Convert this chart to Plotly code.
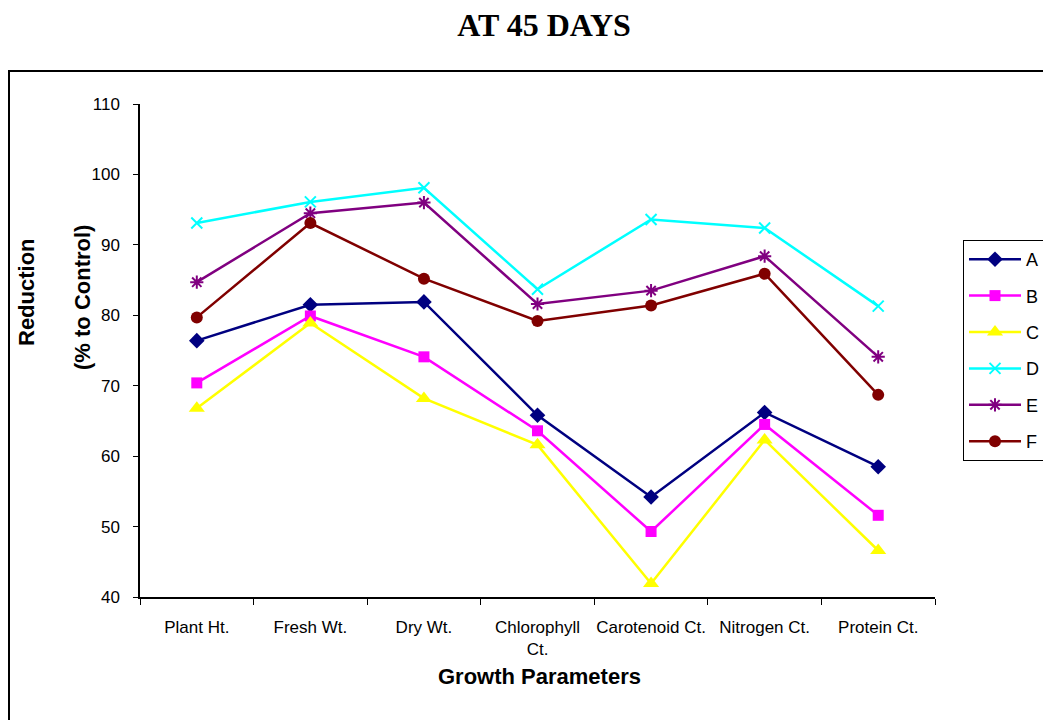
import plotly.graph_objects as go

categories = ["Plant Ht.", "Fresh Wt.", "Dry Wt.", "Chlorophyll<br>Ct.", "Carotenoid Ct.", "Nitrogen Ct.", "Protein Ct."]
series_names = ["A", "B", "C", "D", "E", "F"]
A = [76.4, 81.5, 81.9, 65.8, 54.2, 66.2, 58.5]
B = [70.4, 79.9, 74.1, 63.6, 49.3, 64.5, 51.6]
C = [66.8, 78.9, 68.2, 61.6, 41.9, 62.3, 46.6]
D = [93.1, 96.1, 98.1, 83.7, 93.6, 92.4, 81.3]
E = [84.7, 94.5, 96.0, 81.6, 83.5, 88.4, 74.1]
F = [79.7, 93.1, 85.2, 79.2, 81.4, 85.9, 68.7]
values = [A, B, C, D, E, F]

colors = ["#000080", "#FF00FF", "#FFFF00", "#00FFFF", "#800080", "#800000"]
symbols = ["diamond", "square", "triangle-up", "x-thin", "asterisk", "circle"]
sizes = [12, 11, 14, 11, 11, 12]

fig = go.Figure()
for i, name in enumerate(series_names):
    open_sym = symbols[i] in ("x-thin", "asterisk")
    fig.add_trace(go.Scatter(
        x=categories, y=values[i], name=name, mode="lines+markers",
        legendgroup=name,
        line=dict(color=colors[i], width=2.5),
        marker=dict(symbol=symbols[i], size=sizes[i], color=colors[i],
                    line=dict(color=colors[i], width=2 if open_sym else 0)),
    ))

OFF = 8  # page body margin
W, H = 1051 - OFF, 720 - OFF
L, R, T, B_ = 140 - OFF, 935 - OFF, 104 - OFF, 597 - OFF
pw, ph = R - L, B_ - T


def px(x):
    return (x - OFF - L) / pw


def py(y):
    return (B_ - (y - OFF)) / ph


fig.update_layout(
    width=W, height=H,
    margin=dict(l=L, r=W - R, t=T, b=H - B_, autoexpand=False),
    paper_bgcolor="white", plot_bgcolor="white",
    font=dict(family="Liberation Sans, Arial, sans-serif", color="black"),
    title=dict(text="<b>AT 45 DAYS</b>", x=(544 - OFF) / W, xanchor="center",
               y=1 - (25 - OFF) / H, yanchor="middle",
               font=dict(family="Liberation Serif, Times New Roman, serif", size=32, color="black")),
    xaxis=dict(type="category", range=[-0.5, 6.5], showline=True, linecolor="black", linewidth=1.5,
               ticks="outside", tickson="boundaries", ticklen=6, tickcolor="black", showgrid=False,
               tickfont=dict(size=17), tickangle=0, zeroline=False, ticklabelstandoff=14),
    yaxis=dict(range=[40, 110], dtick=10, showline=True, linecolor="black", linewidth=1.5,
               ticks="outside", ticklen=5, tickcolor="black", showgrid=False, zeroline=False,
               tickfont=dict(size=17), ticklabelstandoff=10),
    legend=dict(x=px(963), y=py(240), xanchor="left", yanchor="top",
                bordercolor="black", borderwidth=1, font=dict(size=18),
                tracegroupgap=10, bgcolor="white", itemwidth=52),
    showlegend=True,
)

fig.add_annotation(text="<b>Growth Parameters</b>", xref="paper", yref="paper",
                   x=px(539), y=py(676), xanchor="center", yanchor="middle",
                   showarrow=False, font=dict(size=22))
fig.add_annotation(text="<b>Reduction</b>", xref="paper", yref="paper",
                   x=px(26), y=py(292), xanchor="center", yanchor="middle",
                   textangle=-90, showarrow=False, font=dict(size=22))
fig.add_annotation(text="<b>(% to Control)</b>", xref="paper", yref="paper",
                   x=px(82), y=py(298), xanchor="center", yanchor="middle",
                   textangle=-90, showarrow=False, font=dict(size=22))

fig.add_shape(type="rect", xref="paper", yref="paper",
              x0=px(9), x1=px(1070), y0=py(740), y1=py(71),
              line=dict(color="black", width=2), fillcolor="rgba(0,0,0,0)", layer="below")

fig.write_html("out.html")
